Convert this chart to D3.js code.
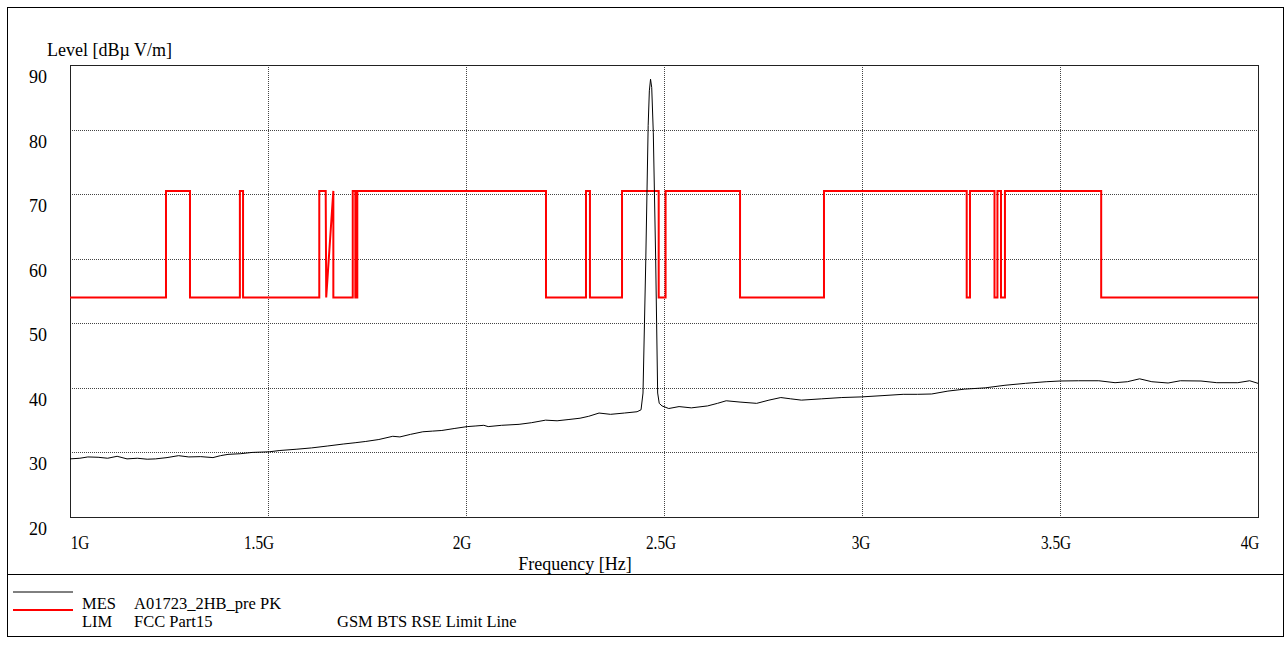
<!DOCTYPE html>
<html><head><meta charset="utf-8">
<script src="https://cdn.jsdelivr.net/npm/d3@7"></script>
<style>
body{margin:0;background:#fff;}
text{font-family:"Liberation Serif","Times New Roman",serif;fill:#000;}
</style></head>
<body>
<svg id="chart" width="1288" height="645"></svg>
<script>
// ---- data ----
const yTicks = [20, 30, 40, 50, 60, 70, 80, 90];
const xTicks = [1e9, 1.5e9, 2e9, 2.5e9, 3e9, 3.5e9, 4e9];
const xTickLabels = ["1G", "1.5G", "2G", "2.5G", "3G", "3.5G", "4G"];

// measurement (GHz, dBµV/m)
const measFreq = [1.000,1.025,1.045,1.071,1.095,1.119,1.144,1.170,1.195,1.216,1.245,1.274,1.300,1.330,1.361,1.380,1.399,1.430,1.460,1.503,1.530,1.573,1.610,1.651,1.690,1.720,1.747,1.780,1.815,1.833,1.860,1.891,1.915,1.939,1.970,2.003,2.025,2.045,2.056,2.090,2.134,2.165,2.201,2.230,2.260,2.288,2.310,2.336,2.365,2.400,2.432,2.442,2.447,2.454,2.460,2.463,2.466,2.469,2.473,2.479,2.484,2.488,2.495,2.512,2.538,2.569,2.610,2.635,2.657,2.692,2.734,2.765,2.795,2.820,2.847,2.898,2.949,2.999,3.053,3.104,3.140,3.176,3.217,3.259,3.311,3.361,3.413,3.465,3.500,3.547,3.598,3.639,3.670,3.701,3.732,3.773,3.804,3.856,3.896,3.949,3.979,4.000];
const measLevel = [29.0,29.1,29.3,29.25,29.1,29.4,29.0,29.1,28.95,29.0,29.2,29.5,29.3,29.35,29.2,29.5,29.7,29.8,30.0,30.1,30.3,30.5,30.7,31.0,31.3,31.5,31.7,32.0,32.5,32.4,32.8,33.2,33.3,33.4,33.7,34.0,34.1,34.2,34.0,34.2,34.35,34.6,35.0,34.9,35.1,35.3,35.6,36.1,35.9,36.1,36.3,36.6,39.2,59.8,80.6,86.0,87.8,86.5,79.5,59.8,39.2,37.6,37.2,36.8,37.1,36.9,37.2,37.6,38.0,37.8,37.6,38.1,38.5,38.3,38.1,38.3,38.5,38.6,38.8,39.0,39.0,39.05,39.5,39.8,40.0,40.4,40.7,40.95,41.06,41.1,41.1,40.8,40.95,41.4,40.95,40.75,41.1,41.06,40.8,40.8,41.1,40.7];

// limit line (GHz, dBµV/m)
const limFreq = [1.0,1.2424,1.2424,1.303,1.303,1.429,1.429,1.437,1.437,1.6295,1.6295,1.6457,1.647,1.665,1.665,1.714,1.714,1.7205,1.7205,1.7255,1.7255,2.202,2.202,2.303,2.303,2.313,2.313,2.394,2.394,2.4866,2.4866,2.504,2.504,2.692,2.692,2.904,2.904,3.2644,3.2644,3.2727,3.2727,3.3346,3.3346,3.342,3.342,3.351,3.351,3.361,3.361,3.604,3.604,4.0];
const limLevel = [54,54,70.5,70.5,54,54,70.5,70.5,54,54,70.5,70.5,54,70.5,54,54,70.5,70.5,54,54,70.5,70.5,54,54,70.5,70.5,54,54,70.5,70.5,54,54,70.5,70.5,54,54,70.5,70.5,54,54,70.5,70.5,54,54,70.5,70.5,54,54,70.5,70.5,54,54];

const legendRows = [
  {tag: "MES", name: "A01723_2HB_pre PK", extra: ""},
  {tag: "LIM", name: "FCC Part15", extra: "GSM BTS RSE Limit Line"}
];

// ---- drawing ----
const svg = d3.select("#chart");
const L = 70, R = 1258, T = 65, B = 517;
const x = d3.scaleLinear().domain([1e9, 4e9]).range([L, R]);
const y = d3.scaleLinear().domain([20, 90]).range([B, T]);

// outer frame
svg.append("rect").attr("x", 7.5).attr("y", 7.5).attr("width", 1276).attr("height", 629)
  .attr("fill", "none").attr("stroke", "#000").attr("stroke-width", 1);
svg.append("line").attr("x1", 7.5).attr("x2", 1283.5).attr("y1", 574.5).attr("y2", 574.5)
  .attr("stroke", "#000").attr("stroke-width", 1);

// grid
const g = svg.append("g");
g.selectAll("line.gy").data(yTicks.filter(v => v > 20 && v < 90)).join("line")
  .attr("x1", L).attr("x2", R).attr("y1", d => Math.round(y(d)) + 0.5).attr("y2", d => Math.round(y(d)) + 0.5)
  .attr("stroke", "#444").attr("stroke-dasharray", "1,1").attr("stroke-width", 1);
g.selectAll("line.gx").data(xTicks.slice(1, -1)).join("line")
  .attr("y1", T).attr("y2", B).attr("x1", d => Math.round(x(d)) + 0.5).attr("x2", d => Math.round(x(d)) + 0.5)
  .attr("stroke", "#444").attr("stroke-dasharray", "1,1").attr("stroke-width", 1);

// plot frame
svg.append("rect").attr("x", L + 0.5).attr("y", T + 0.5).attr("width", R - L).attr("height", B - T)
  .attr("fill", "none").attr("stroke", "#222").attr("stroke-width", 1);

// limit line
const limData = limFreq.map((f, i) => [f * 1e9, limLevel[i]]);
svg.append("path").datum(limData)
  .attr("d", d3.line().x(d => x(d[0])).y(d => y(d[1])))
  .attr("fill", "none").attr("stroke", "#ff0000").attr("stroke-width", 2);

// measurement
const measData = measFreq.map((f, i) => [f * 1e9, measLevel[i]]);
svg.append("path").datum(measData)
  .attr("d", d3.line().x(d => x(d[0])).y(d => y(d[1])))
  .attr("fill", "none").attr("stroke", "#000").attr("stroke-width", 1);

// y tick labels
svg.selectAll("text.yt").data(yTicks).join("text")
  .attr("x", 38).attr("y", d => y(d) + 18).attr("text-anchor", "middle")
  .style("font-size", "18px").text(d => d);

// x tick labels
const xOff = [10, -9, -4, -3, -1, -4, -8];
svg.selectAll("text.xt").data(xTicks).join("text")
  .attr("transform", (d, i) => `translate(${x(d) + xOff[i]},549) scale(0.85,1)`)
  .attr("text-anchor", "middle").style("font-size", "18px")
  .text((d, i) => xTickLabels[i]);

// axis titles
svg.append("text").attr("x", 47).attr("y", 56).style("font-size", "18px").text("Level [dBµ  V/m]");
svg.append("text").attr("x", 575).attr("y", 570).attr("text-anchor", "middle")
  .style("font-size", "18px").text("Frequency [Hz]");

// legend
svg.append("line").attr("x1", 13).attr("x2", 73).attr("y1", 592).attr("y2", 592)
  .attr("stroke", "#000").attr("stroke-width", 1);
svg.append("line").attr("x1", 13).attr("x2", 73).attr("y1", 610).attr("y2", 610)
  .attr("stroke", "#ff0000").attr("stroke-width", 2);
const lg = svg.selectAll("g.lg").data(legendRows).join("g")
  .attr("transform", (d, i) => `translate(0,${609 + i * 18})`);
lg.append("text").attr("x", 82).style("font-size", "16.5px").text(d => d.tag);
lg.append("text").attr("x", 134).style("font-size", "16.5px").text(d => d.name);
lg.append("text").attr("x", 337).style("font-size", "16.5px").text(d => d.extra);
</script>
</body></html>
